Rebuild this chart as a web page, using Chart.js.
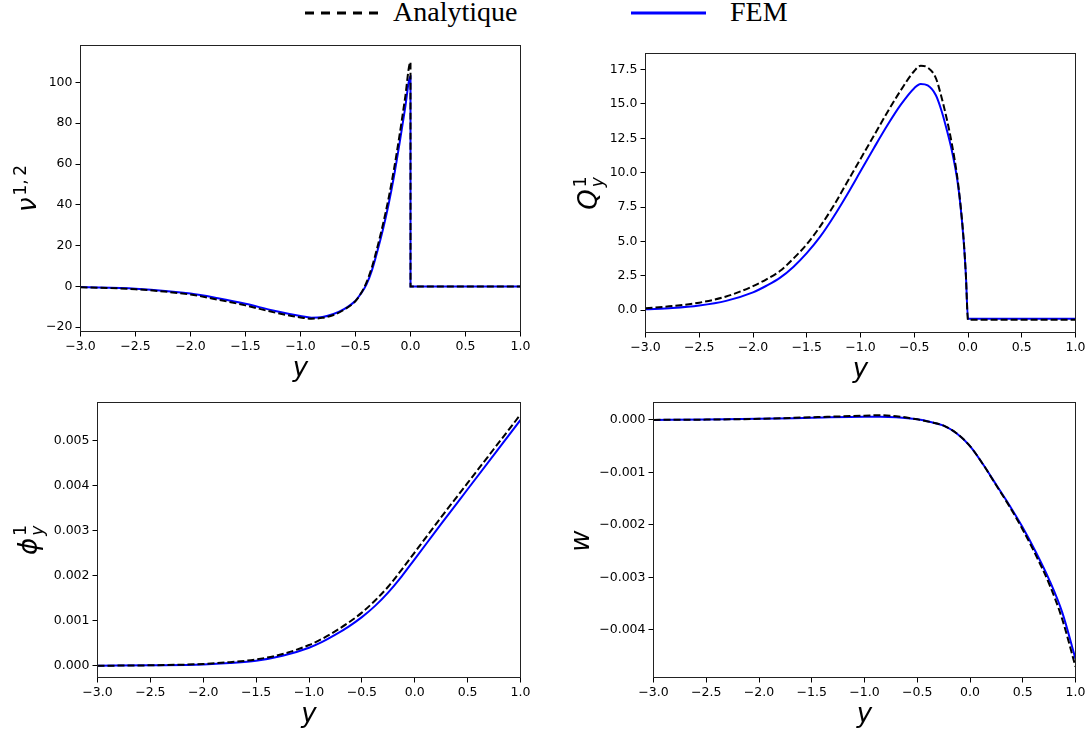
<!DOCTYPE html>
<html>
<head>
<meta charset="utf-8">
<script src="https://cdn.jsdelivr.net/npm/chart.js@4.4.0/dist/chart.umd.min.js"></script>
<style>
  body { margin: 0; background: #fff; width: 1091px; height: 731px; position: relative; overflow: hidden; }
  .panel { position: absolute; }
  .leg { position: absolute; font-family: "Liberation Serif", serif; font-size: 28px; line-height: 28px; color: #000; white-space: nowrap; }
</style>
</head>
<body>
<svg style="position:absolute;left:0;top:0" width="1091" height="30">
  <line x1="305" y1="13" x2="378" y2="13" stroke="#000" stroke-width="3" stroke-dasharray="9,7"/>
  <line x1="631" y1="13" x2="706" y2="13" stroke="#0000ff" stroke-width="3"/>
</svg>
<div class="leg" style="left:393px;top:-2px">Analytique</div>
<div class="leg" style="left:730px;top:-2px">FEM</div>

<div class="panel" style="left:0px;top:35px;width:545px;height:350px"><canvas id="c1"></canvas></div>
<div class="panel" style="left:560px;top:35px;width:531px;height:350px"><canvas id="c2"></canvas></div>
<div class="panel" style="left:0px;top:390px;width:545px;height:341px"><canvas id="c3"></canvas></div>
<div class="panel" style="left:560px;top:390px;width:531px;height:341px"><canvas id="c4"></canvas></div>

<script>
// données
const xTicks = [-3.0, -2.5, -2.0, -1.5, -1.0, -0.5, 0.0, 0.5, 1.0];

// nu^{1,2}
const nuX = [-3.0, -2.5, -2.0, -1.75, -1.5, -1.25, -1.0, -0.9, -0.8, -0.7, -0.6, -0.5, -0.45, -0.4, -0.35, -0.3, -0.25, -0.2, -0.15, -0.1, -0.05, 0.0, 0.0001, 0.5, 1.0];
const nuAnalytique = [-0.4, -1.4, -4.0, -6.5, -9.3, -12.6, -15.2, -15.8, -15.4, -14.0, -11.3, -7.2, -3.4, 2.0, 9.5, 19.5, 30.5, 43, 57.5, 74, 92, 110, 0, 0, 0];
const nuFEM = [-0.3, -1.1, -3.5, -5.8, -8.5, -11.8, -14.5, -15.3, -15.0, -13.5, -11.0, -7.0, -3.5, 1.0, 8.0, 17.5, 28, 40, 54, 70, 87, 103, 0, 0, 0];
const nuTicks = [-20, 0, 20, 40, 60, 80, 100];

// Q_y^1
const qX = [-3.0, -2.75, -2.5, -2.25, -2.0, -1.875, -1.75, -1.625, -1.5, -1.375, -1.25, -1.125, -1.0, -0.875, -0.75, -0.625, -0.5, -0.44, -0.375, -0.3, -0.25, -0.2, -0.15, -0.1, -0.07, -0.04, -0.02, 0.0, 0.5, 1.0];
const qAnalytique = [0.15, 0.3, 0.55, 1.0, 1.75, 2.25, 2.85, 3.75, 4.8, 6.1, 7.6, 9.3, 11.0, 12.7, 14.4, 16.0, 17.4, 17.78, 17.65, 16.9, 15.6, 14.0, 12.1, 9.7, 7.7, 5.1, 2.6, -0.7, -0.7, -0.7];
const qFEM = [0.07, 0.16, 0.34, 0.68, 1.3, 1.78, 2.35, 3.15, 4.15, 5.35, 6.8, 8.4, 10.1, 11.8, 13.45, 14.95, 16.15, 16.45, 16.35, 15.65, 14.6, 13.2, 11.6, 9.5, 7.6, 5.0, 2.6, -0.62, -0.62, -0.62];
const qTicks = [0.0, 2.5, 5.0, 7.5, 10.0, 12.5, 15.0, 17.5];

// phi_y^1
const phiX = [-3.0, -2.5, -2.0, -1.75, -1.5, -1.25, -1.0, -0.875, -0.75, -0.625, -0.5, -0.375, -0.25, -0.125, 0.0, 0.125, 0.25, 0.5, 0.75, 1.0];
const phiAnalytique = [0, 0.00001, 0.00004, 0.00008, 0.00014, 0.00026, 0.00046, 0.0006, 0.00077, 0.00096, 0.00118, 0.00145, 0.00176, 0.00213, 0.00252, 0.00291, 0.0033, 0.00406, 0.00482, 0.00558];
const phiFEM = [0, 0.00001, 0.00003, 0.00006, 0.00011, 0.00022, 0.0004, 0.00053, 0.00069, 0.00087, 0.00108, 0.00133, 0.00163, 0.00198, 0.00237, 0.00276, 0.00315, 0.00392, 0.00469, 0.00546];
const phiTicks = [0.000, 0.001, 0.002, 0.003, 0.004, 0.005];

// w
const wX = [-3.0, -2.5, -2.0, -1.5, -1.0, -0.85, -0.7, -0.5, -0.375, -0.25, -0.125, 0.0, 0.125, 0.25, 0.375, 0.5, 0.625, 0.75, 0.875, 1.0];
const wAnalytique = [0, 0.000005, 0.00002, 0.00005, 0.00008, 0.00009, 0.00007, 0.00001, -0.00004, -0.00011, -0.00026, -0.0005, -0.00085, -0.00125, -0.00165, -0.00209, -0.00258, -0.00312, -0.0038, -0.0047];
const wFEM = [0, 0.000005, 0.00002, 0.00004, 0.00006, 0.00006, 0.00005, 0.00001, -0.00004, -0.00011, -0.00026, -0.0005, -0.00085, -0.00124, -0.00163, -0.00205, -0.00252, -0.00304, -0.00367, -0.00455];
const wTicks = [-0.004, -0.003, -0.002, -0.001, 0.000];

const pts = (xs, ys) => xs.map((x, i) => ({ x: x, y: ys[i] }));
const moins = s => s.replace('-', '\u2212');

// cadre + titres des axes (indices/exposants dessinés à la main)
const decor = {
  id: 'decor',
  afterDraw(chart, args, o) {
    const ctx = chart.ctx, a = chart.chartArea;
    ctx.save();
    ctx.strokeStyle = '#222';
    ctx.lineWidth = 1;
    ctx.strokeRect(a.left, a.top, a.right - a.left, a.bottom - a.top);

    ctx.fillStyle = '#000';
    ctx.textAlign = 'center';
    ctx.textBaseline = 'alphabetic';
    ctx.font = 'italic 26px "DejaVu Sans"';
    ctx.fillText('y', (a.left + a.right) / 2, a.bottom + 44);

    // titre vertical
    const lab = o.label;
    ctx.translate(a.left - o.off, (a.top + a.bottom) / 2);
    ctx.rotate(-Math.PI / 2);
    ctx.textAlign = 'left';
    const big = 'italic 26px "DejaVu Sans"';
    const sup = '17px "DejaVu Sans"';
    const sub = 'italic 17px "DejaVu Sans"';
    ctx.font = big;
    const w0 = ctx.measureText(lab.base).width;
    ctx.font = sup;
    const w1 = lab.sup ? ctx.measureText(lab.sup).width : 0;
    ctx.font = sub;
    const w2 = lab.sub ? ctx.measureText(lab.sub).width : 0;
    let cx = -(w0 + 2 + Math.max(w1, w2)) / 2;
    ctx.font = big;
    ctx.fillText(lab.base, cx, 0);
    cx += w0 + 2;
    if (lab.sup) { ctx.font = sup; ctx.fillText(lab.sup, cx, -lab.raise); }
    if (lab.sub) { ctx.font = sub; ctx.fillText(lab.sub, cx, 6); }
    ctx.restore();
  }
};

function panel(id, box, plot, xs, ana, fem, yMin, yMax, yTicks, yFmt, label, off) {
  const tickFont = { family: 'DejaVu Sans', size: 12.5 };
  new Chart(document.getElementById(id), {
    type: 'line',
    data: {
      datasets: [
        { label: 'Analytique', data: pts(xs, ana), borderColor: '#000', borderWidth: 2, borderDash: [7, 3], pointRadius: 0, fill: false, cubicInterpolationMode: 'monotone' },
        { label: 'FEM', data: pts(xs, fem), borderColor: '#0000ff', borderWidth: 2, pointRadius: 0, fill: false, cubicInterpolationMode: 'monotone' }
      ]
    },
    options: {
      responsive: true,
      maintainAspectRatio: false,
      animation: false,
      events: [],
      layout: { padding: { left: 0, bottom: 0, top: plot.t - box.top, right: box.left + box.width - plot.r } },
      plugins: { legend: { display: false }, tooltip: { enabled: false }, decor: { label: label, off: off } },
      scales: {
        x: {
          type: 'linear', min: -3, max: 1,
          afterBuildTicks: s => { s.ticks = xTicks.map(v => ({ value: v })); },
          afterFit: s => { s.height = box.top + box.height - plot.b; s.paddingLeft = 0; s.paddingRight = 0; },
          grid: { display: true, drawOnChartArea: false, drawTicks: true, tickLength: 5, tickColor: '#000', tickWidth: 1 },
          border: { display: false },
          ticks: { autoSkip: false, maxRotation: 0, padding: 3, color: '#000', font: tickFont, callback: v => moins(v.toFixed(1)) }
        },
        y: {
          type: 'linear', min: yMin, max: yMax,
          afterBuildTicks: s => { s.ticks = yTicks.map(v => ({ value: v })); },
          afterFit: s => { s.width = plot.l - box.left; s.paddingTop = 0; s.paddingBottom = 0; },
          grid: { display: true, drawOnChartArea: false, drawTicks: true, tickLength: 5, tickColor: '#000', tickWidth: 1 },
          border: { display: false },
          ticks: { autoSkip: false, padding: 3, color: '#000', font: tickFont, callback: v => moins(yFmt(v)) }
        }
      }
    },
    plugins: [decor]
  });
}

panel('c1', { left: 0, top: 35, width: 545, height: 350 }, { l: 80.5, t: 45.5, r: 520.5, b: 331.5 },
  nuX, nuAnalytique, nuFEM, -22.1, 118.1, nuTicks, v => String(Math.round(v)),
  { base: '\u03BD', sup: '1,\u20092', raise: 10 }, 44.5);

panel('c2', { left: 560, top: 35, width: 531, height: 350 }, { l: 645.5, t: 53.5, r: 1075.5, b: 332.5 },
  qX, qAnalytique, qFEM, -1.62, 18.67, qTicks, v => v.toFixed(1),
  { base: 'Q', sup: '1', sub: 'y', raise: 11 }, 48.5);

panel('c3', { left: 0, top: 390, width: 545, height: 341 }, { l: 97.5, t: 402.5, r: 520.5, b: 677.5 },
  phiX, phiAnalytique, phiFEM, -0.000261, 0.005847, phiTicks, v => v.toFixed(3),
  { base: '\u03D5', sup: '1', sub: 'y', raise: 11 }, 61);

panel('c4', { left: 560, top: 390, width: 531, height: 341 }, { l: 653.5, t: 402.5, r: 1075.5, b: 677.5 },
  wX, wAnalytique, wFEM, -0.004905, 0.000331, wTicks, v => v.toFixed(3),
  { base: 'w' }, 64.5);
</script>
</body>
</html>
